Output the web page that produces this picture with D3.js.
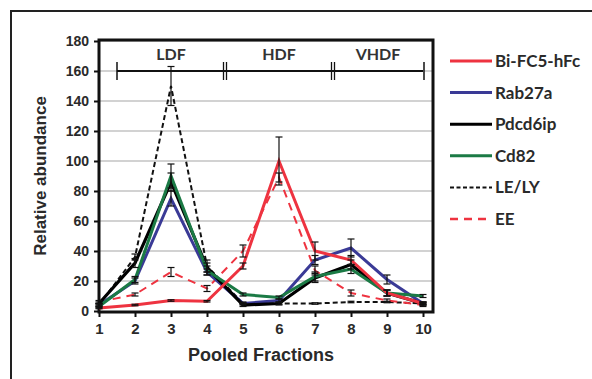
<!DOCTYPE html>
<html><head><meta charset="utf-8">
<script src="https://cdn.jsdelivr.net/npm/d3@7"></script>
<style>body{margin:0;background:#fff}svg{display:block}</style>
</head><body><svg id="c" width="592" height="379"></svg>
<script>
const fractions = [1,2,3,4,5,6,7,8,9,10];
const yTicks = [0,20,40,60,80,100,120,140,160,180];
const seriesNames = ["Bi-FC5-hFc","Rab27a","Pdcd6ip","Cd82","LE/LY","EE"];
const biFC5 = [2,4,7,6.5,30,100,40,34,12,5];
const biFC5Err = [0.5,0.5,0.5,0.5,2,16,6,3,2,1];
const rab27a = [4,20,75,26,5,7,34,42,21,5];
const rab27aErr = [1,2,5,2,1,1,3,6,3,1];
const pdcd6ip = [5,32,86,29,4,5,22,31,12,5];
const pdcd6ipErr = [1,3,6,3,1,1,3,3,2,1];
const cd82 = [3,21,90,27,11,9,23,28,12,10];
const cd82Err = [1,2,8,3,1,1,3,3,2,1];
const leLy = [4,36,150,30,5,5,5,6,6,5];
const leLyErr = [1,2,13,4,0.5,0.5,0.5,0.5,0.5,0.5];
const ee = [6,11,26,15,40,89,27,12,7,4];
const eeErr = [1,1,3,2,4,3,3,2,1,1];
const regions = [{label:"LDF",from:1.5,to:4.5},{label:"HDF",from:4.5,to:7.5},{label:"VHDF",from:7.5,to:10}];

const svg = d3.select("#c");
svg.append("path").attr("d","M11,379V11H592").attr("fill","none").attr("stroke","#222").attr("stroke-width",2);

const x = d3.scaleLinear().domain([1,10]).range([99,423]);
const y = d3.scaleLinear().domain([0,180]).range([311,41]);
const L=99,R=433,T=40,B=312;

svg.append("g").selectAll("line").data(yTicks.filter(d=>d>0)).join("line")
 .attr("x1",L).attr("x2",R).attr("y1",d=>y(d)).attr("y2",d=>y(d)).attr("stroke","#a6a6a6").attr("stroke-width",1.2);

const ya = svg.append("g").attr("transform",`translate(${L},0)`).call(d3.axisLeft(y).tickValues(yTicks).tickSize(5).tickPadding(5));
ya.select(".domain").remove();
ya.selectAll("line").attr("stroke","#111").attr("stroke-width",2);
ya.selectAll("text").attr("font-family","Liberation Sans, Arial, sans-serif").attr("font-weight","bold").attr("font-size",14).attr("fill","#2a2a2a");

const xa = svg.append("g").attr("transform",`translate(0,${B})`).call(d3.axisBottom(x).tickValues(fractions).tickSize(5).tickPadding(6));
xa.select(".domain").remove();
xa.selectAll("line").attr("stroke","#111").attr("stroke-width",2);
xa.selectAll("text").attr("font-family","Liberation Sans, Arial, sans-serif").attr("font-weight","bold").attr("font-size",15).attr("fill","#2a2a2a");

svg.append("rect").attr("x",L).attr("y",T).attr("width",R-L).attr("height",B-T).attr("fill","none").attr("stroke","#111").attr("stroke-width",3);

const by = y(160);
svg.append("line").attr("x1",x(1.5)).attr("x2",x(10)).attr("y1",by).attr("y2",by).attr("stroke","#111").attr("stroke-width",2);
svg.append("line").attr("x1",x(1.5)).attr("x2",x(1.5)).attr("y1",by-9).attr("y2",by+9).attr("stroke","#111").attr("stroke-width",1.5);
svg.append("line").attr("x1",x(10)+1).attr("x2",x(10)+1).attr("y1",by-9).attr("y2",by+9).attr("stroke","#111").attr("stroke-width",1.5);
[4.5,7.5].forEach(v=>{
  [-1.5,1.5].forEach(o=>svg.append("line").attr("x1",x(v)+o).attr("x2",x(v)+o).attr("y1",by-9).attr("y2",by+9).attr("stroke","#111").attr("stroke-width",1.3));
});
svg.append("g").selectAll("text").data(regions).join("text")
 .attr("x",d=>x((d.from+d.to)/2)).attr("y",60).attr("text-anchor","middle")
 .attr("font-family","Lato, Open Sans, sans-serif").attr("font-weight","bold").attr("font-size",16).attr("fill","#333").text(d=>d.label);

const series = [
 {name:seriesNames[0],v:biFC5,e:biFC5Err,c:"#ee3340",w:3,dash:null},
 {name:seriesNames[1],v:rab27a,e:rab27aErr,c:"#3a3a96",w:3,dash:null},
 {name:seriesNames[2],v:pdcd6ip,e:pdcd6ipErr,c:"#000",w:3.2,dash:null},
 {name:seriesNames[3],v:cd82,e:cd82Err,c:"#1b7a45",w:3,dash:null},
 {name:seriesNames[4],v:leLy,e:leLyErr,c:"#111",w:2,dash:"5,3"},
 {name:seriesNames[5],v:ee,e:eeErr,c:"#ee3340",w:2,dash:"8,6"}
];
const line = d3.line().x((d,i)=>x(fractions[i])).y(d=>y(d));
const drawOrder = [4,5,1,2,3,0];
drawOrder.forEach(k=>{
  const s=series[k];
  svg.append("path").datum(s.v).attr("d",line).attr("fill","none").attr("stroke",s.c).attr("stroke-width",s.w)
   .attr("stroke-dasharray",s.dash).attr("stroke-linejoin","miter");
});
series.forEach(s=>{
  const g=svg.append("g").attr("stroke","#111").attr("stroke-width",1.2);
  s.v.forEach((v,i)=>{
    const cx=x(fractions[i]);
    g.append("line").attr("x1",cx).attr("x2",cx).attr("y1",y(v-s.e[i])).attr("y2",y(v+s.e[i]));
    [v-s.e[i],v+s.e[i]].forEach(t=>g.append("line").attr("x1",cx-3.5).attr("x2",cx+3.5).attr("y1",y(t)).attr("y2",y(t)));
  });
});

svg.append("text").attr("transform","translate(46,176) rotate(-90)").attr("text-anchor","middle")
 .attr("font-family","Liberation Sans, Arial, sans-serif").attr("font-weight","bold").attr("font-size",17).attr("fill","#2a2a2a").text("Relative abundance");
svg.append("text").attr("x",261).attr("y",361).attr("text-anchor","middle")
 .attr("font-family","Liberation Sans, Arial, sans-serif").attr("font-weight","bold").attr("font-size",18).attr("fill","#2a2a2a").text("Pooled Fractions");

const lg = svg.append("g");
series.forEach((s,i)=>{
  const ly = 61 + i*31.6;
  lg.append("line").attr("x1",450).attr("x2",492).attr("y1",ly).attr("y2",ly).attr("stroke",s.c)
   .attr("stroke-width",s.dash? (i===4?2:2.5):3).attr("stroke-dasharray",i===4?"4,2.5":(i===5?"8,6":null));
  lg.append("text").attr("x",495).attr("y",ly+6).attr("font-family","Lato, Open Sans, sans-serif").attr("font-weight","bold")
   .attr("font-size",17).attr("fill","#2a2a2a").text(s.name);
});
</script></body></html>
